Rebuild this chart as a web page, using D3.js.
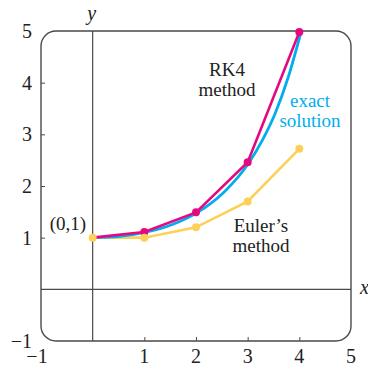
<!DOCTYPE html>
<html><head><meta charset="utf-8">
<script src="https://cdn.jsdelivr.net/npm/d3@7"></script>
<style>html,body{margin:0;padding:0;background:#fff;}svg{display:block;}</style>
</head><body>
<svg id="c" width="368" height="368"></svg>
<script>
const xTicks = [-1, 1, 2, 3, 4, 5];
const yTicks = [-1, 1, 2, 3, 4, 5];
const stepX = [0, 1, 2, 3, 4];
const eulerY = [1, 1, 1.2, 1.7, 2.72];
const rk4Y = [1, 1.11, 1.49, 2.46, 4.98];
const exactX = [0, 0.5, 1, 1.5, 2, 2.5, 3, 3.25, 3.5, 3.75, 4];
const exactY = [1, 1.025, 1.105, 1.25, 1.49, 1.87, 2.46, 2.88, 3.40, 4.09, 4.97];

const svg = d3.select('#c');
const x = d3.scaleLinear().domain([-1, 5]).range([41, 351]);
const y = d3.scaleLinear().domain([-1, 5]).range([341, 31]);
const serif = '"Liberation Serif", "DejaVu Serif", serif';
const frameCol = '#4a4a4a';

// frame
svg.append('rect').attr('x', x(-1)).attr('y', y(5))
  .attr('width', x(5) - x(-1)).attr('height', y(-1) - y(5))
  .attr('rx', 15).attr('ry', 15)
  .attr('fill', 'none').attr('stroke', frameCol).attr('stroke-width', 1.4);

// axes lines
svg.append('line').attr('x1', x(-1)).attr('x2', x(5)).attr('y1', y(0)).attr('y2', y(0))
  .attr('stroke', frameCol).attr('stroke-width', 1.2);
svg.append('line').attr('x1', x(0)).attr('x2', x(0)).attr('y1', y(-1)).attr('y2', y(5))
  .attr('stroke', frameCol).attr('stroke-width', 1.2);

// ticks on frame (inward)
const bottomAxis = d3.axisBottom(x).tickValues(xTicks.filter(v => v > -1 && v < 5)).tickSize(-4).tickFormat('');
const ga = svg.append('g').attr('transform', `translate(0,${y(-1)})`).call(bottomAxis);
ga.select('.domain').remove();
ga.selectAll('line').attr('stroke', frameCol).attr('stroke-width', 1);
const leftAxis = d3.axisLeft(y).tickValues(yTicks.filter(v => v > -1 && v < 5)).tickSize(-4).tickFormat('');
const gl = svg.append('g').attr('transform', `translate(${x(-1)},0)`).call(leftAxis);
gl.select('.domain').remove();
gl.selectAll('line').attr('stroke', frameCol).attr('stroke-width', 1);

// tick labels
const fmt = v => v < 0 ? '\u2212' + Math.abs(v) : String(v);
svg.selectAll('.xl').data(xTicks).enter().append('text')
  .attr('x', d => x(d) + (d < 0 ? -4 : 0)).attr('y', 363)
  .attr('text-anchor', 'middle').attr('font-family', serif).attr('font-size', 20)
  .attr('fill', '#222').text(fmt);
svg.selectAll('.yl').data(yTicks).enter().append('text')
  .attr('x', 32).attr('y', d => y(d) + 7)
  .attr('text-anchor', 'end').attr('font-family', serif).attr('font-size', 20)
  .attr('fill', '#222').text(fmt);

// axis names
svg.append('text').attr('x', x(0) - 1).attr('y', 20).attr('text-anchor', 'middle')
  .attr('font-family', serif).attr('font-style', 'italic').attr('font-size', 20).attr('fill', '#222').text('y');
svg.append('text').attr('x', 360).attr('y', y(0) + 5).attr('text-anchor', 'start')
  .attr('font-family', serif).attr('font-style', 'italic').attr('font-size', 20).attr('fill', '#222').text('x');

const line = d3.line().x(d => x(d[0])).y(d => y(d[1]));
const exactCurve = d3.line().x(d => x(d[0])).y(d => y(d[1])).curve(d3.curveMonotoneX);

const yellow = '#fcd059', blue = '#00aeef', magenta = '#e5097f';

// Euler
const eData = stepX.map((v, i) => [v, eulerY[i]]);
svg.append('path').datum(eData).attr('d', line).attr('fill', 'none')
  .attr('stroke', yellow).attr('stroke-width', 2.6);

// exact
svg.append('path').datum(exactX.map((v, i) => [v + 0.03, exactY[i]]).map((d, i) => i === 0 ? [0, 1] : d))
  .attr('d', exactCurve).attr('fill', 'none')
  .attr('stroke', blue).attr('stroke-width', 2.8);

// RK4
const rData = stepX.map((v, i) => [v, rk4Y[i]]);
svg.append('path').datum(rData).attr('d', line).attr('fill', 'none')
  .attr('stroke', magenta).attr('stroke-width', 2.6);
svg.selectAll('.rd').data(rData.slice(1)).enter().append('circle')
  .attr('cx', d => x(d[0])).attr('cy', d => y(d[1])).attr('r', 4).attr('fill', magenta);

svg.selectAll('.ed').data(eData).enter().append('circle')
  .attr('cx', d => x(d[0])).attr('cy', d => y(d[1])).attr('r', 4).attr('fill', yellow);

// labels
function lbl(tx, ty, lines, col) {
  const t = svg.append('text').attr('text-anchor', 'middle').attr('font-family', serif)
    .attr('font-size', 19).attr('fill', col);
  lines.forEach((s, i) => t.append('tspan').attr('x', tx).attr('y', ty + i * 20).text(s));
}
lbl(227, 76, ['RK4', 'method'], '#222');
lbl(310, 107, ['exact', 'solution'], blue);
lbl(261, 232, ['Euler\u2019s', 'method'], '#222');
lbl(68, 230, ['(0,1)'], '#222');
</script>
</body></html>
